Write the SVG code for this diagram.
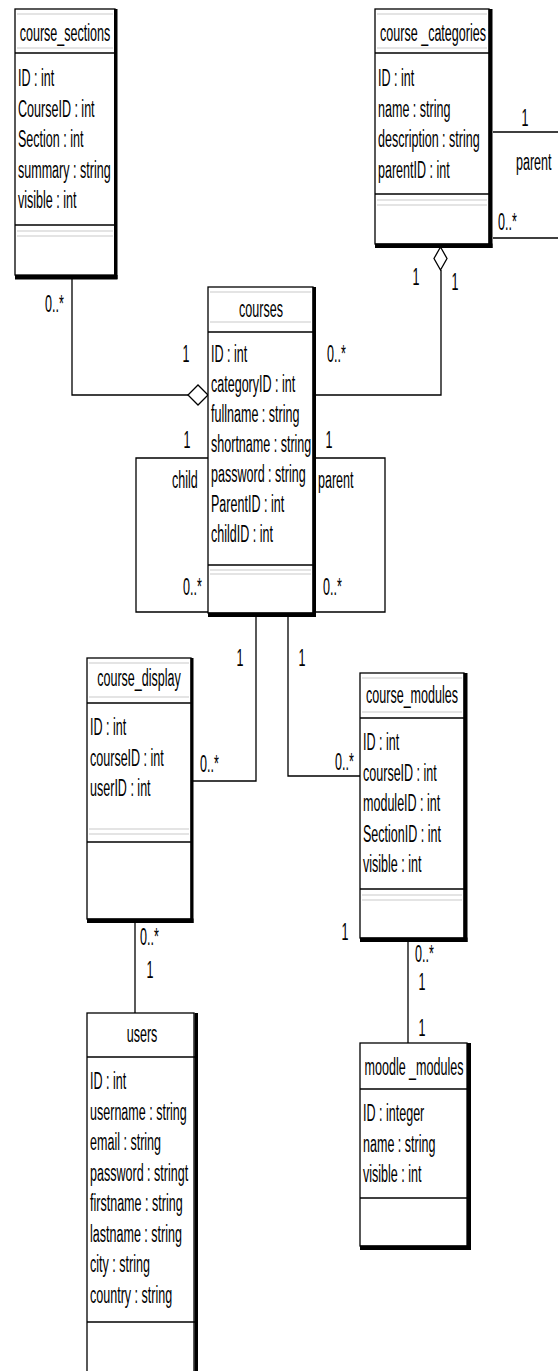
<svg xmlns="http://www.w3.org/2000/svg" width="558" height="1371" viewBox="0 0 558 1371">
<style>
text{font-family:"Liberation Sans",Arial,sans-serif;font-size:23px;fill:#000}
.c{text-anchor:middle}
.box{fill:#fff;stroke:#000;stroke-width:1.3}
.sh{fill:#000}
.div{stroke:#000;stroke-width:1.3}
.g{stroke:#e4e4e4;stroke-width:2}
.ln{fill:none;stroke:#000;stroke-width:1.3}
.dm{fill:#fff;stroke:#000;stroke-width:1.3}
</style>
<rect width="558" height="1371" fill="#fff"/>

<g id="connectors">
<path class="ln" d="M72 279V395H188"/>
<path class="ln" d="M441 270V395H316"/>
<path class="ln" d="M208 458H136V612H208"/>
<path class="ln" d="M316 458H385V612H316"/>
<path class="ln" d="M256 617V781H193"/>
<path class="ln" d="M288 617V776H360"/>
<path class="ln" d="M135 923V1013"/>
<path class="ln" d="M408 942V1043"/>
<path class="ln" d="M493 132H558M493 238H558"/>
<polygon class="dm" points="208,395 198,385 188,395 198,405"/>
<polygon class="dm" points="440.5,247 447,258.5 440.5,270 434,258.5"/>
<text transform="matrix(0.545 0 0 1 45 312)">0..*</text>
<text class="c" transform="matrix(0.545 0 0 1 186 362)">1</text>
<text transform="matrix(0.545 0 0 1 327 362)">0..*</text>
<text class="c" transform="matrix(0.545 0 0 1 416 285)">1</text>
<text class="c" transform="matrix(0.545 0 0 1 455 290)">1</text>
<text class="c" transform="matrix(0.545 0 0 1 187 448)">1</text>
<text class="c" transform="matrix(0.545 0 0 1 329 448)">1</text>
<text transform="matrix(0.545 0 0 1 172 488)">child</text>
<text transform="matrix(0.545 0 0 1 318 488)">parent</text>
<text transform="matrix(0.545 0 0 1 183 595)">0..*</text>
<text transform="matrix(0.545 0 0 1 323 595)">0..*</text>
<text class="c" transform="matrix(0.545 0 0 1 240 666)">1</text>
<text class="c" transform="matrix(0.545 0 0 1 302 666)">1</text>
<text transform="matrix(0.545 0 0 1 200 772)">0..*</text>
<text transform="matrix(0.545 0 0 1 335 770)">0..*</text>
<text class="c" transform="matrix(0.545 0 0 1 345 940)">1</text>
<text transform="matrix(0.545 0 0 1 140 945)">0..*</text>
<text class="c" transform="matrix(0.545 0 0 1 150 978)">1</text>
<text transform="matrix(0.545 0 0 1 415 962)">0..*</text>
<text class="c" transform="matrix(0.545 0 0 1 422 990)">1</text>
<text class="c" transform="matrix(0.545 0 0 1 422 1036)">1</text>
<text class="c" transform="matrix(0.545 0 0 1 525 126)">1</text>
<text transform="matrix(0.545 0 0 1 516 170)">parent</text>
<text transform="matrix(0.545 0 0 1 498 230)">0..*</text>
</g>

<g id="course_sections">
<rect class="box" x="15" y="9" width="100" height="266"/>
<rect class="sh" x="114" y="9" width="3.5" height="270"/>
<rect class="sh" x="15" y="275" width="102.5" height="4.5"/>
<line class="g" x1="17" y1="14" x2="113" y2="14"/>
<line class="g" x1="17" y1="48" x2="113" y2="48"/>
<line class="div" x1="15" y1="53" x2="115" y2="53"/>
<line class="div" x1="15" y1="225" x2="115" y2="225"/>
<line class="g" x1="17" y1="231" x2="113" y2="231"/>
<line class="g" x1="17" y1="236" x2="113" y2="236"/>
<text class="c" transform="matrix(0.545 0 0 1 65 41)">course_sections</text>
<text transform="matrix(0.545 0 0 1 18 86)">ID : int</text>
<text transform="matrix(0.545 0 0 1 18 116.5)">CourseID : int</text>
<text transform="matrix(0.545 0 0 1 18 147)">Section : int</text>
<text transform="matrix(0.545 0 0 1 18 177.5)">summary : string</text>
<text transform="matrix(0.545 0 0 1 18 208)">visible : int</text>
</g>

<g id="course_categories">
<rect class="box" x="375" y="9" width="114" height="235"/>
<rect class="sh" x="488.5" y="9" width="4" height="239"/>
<rect class="sh" x="375" y="243.5" width="117.5" height="4.5"/>
<line class="g" x1="377" y1="14" x2="487" y2="14"/>
<line class="g" x1="377" y1="48" x2="487" y2="48"/>
<line class="div" x1="375" y1="53" x2="489" y2="53"/>
<line class="div" x1="375" y1="194" x2="489" y2="194"/>
<line class="g" x1="377" y1="200" x2="487" y2="200"/>
<line class="g" x1="377" y1="205" x2="487" y2="205"/>
<text class="c" transform="matrix(0.545 0 0 1 433 41)">course _categories</text>
<text transform="matrix(0.545 0 0 1 378 86)">ID : int</text>
<text transform="matrix(0.545 0 0 1 378 116.5)">name : string</text>
<text transform="matrix(0.545 0 0 1 378 147)">description : string</text>
<text transform="matrix(0.545 0 0 1 378 177.5)">parentID : int</text>
</g>

<g id="courses">
<rect class="box" x="208" y="287" width="105" height="326"/>
<rect class="sh" x="312.5" y="287" width="3.5" height="330"/>
<rect class="sh" x="208" y="612.5" width="108" height="4.5"/>
<line class="g" x1="210" y1="292" x2="311" y2="292"/>
<line class="g" x1="210" y1="322" x2="311" y2="322"/>
<line class="div" x1="208" y1="332" x2="313" y2="332"/>
<line class="div" x1="208" y1="565" x2="313" y2="565"/>
<line class="g" x1="210" y1="570" x2="311" y2="570"/>
<line class="g" x1="210" y1="574" x2="311" y2="574"/>
<text class="c" transform="matrix(0.545 0 0 1 261 317)">courses</text>
<text transform="matrix(0.545 0 0 1 211 362)">ID : int</text>
<text transform="matrix(0.545 0 0 1 211 392)">categoryID : int</text>
<text transform="matrix(0.545 0 0 1 211 422)">fullname : string</text>
<text transform="matrix(0.545 0 0 1 211 452)">shortname : string</text>
<text transform="matrix(0.545 0 0 1 211 482)">password : string</text>
<text transform="matrix(0.545 0 0 1 211 512)">ParentID : int</text>
<text transform="matrix(0.545 0 0 1 211 542)">childID : int</text>
</g>

<g id="course_display">
<rect class="box" x="87" y="658" width="104" height="261"/>
<rect class="sh" x="190.5" y="658" width="3" height="265"/>
<rect class="sh" x="87" y="918.5" width="106.5" height="4.5"/>
<line class="g" x1="89" y1="663" x2="189" y2="663"/>
<line class="g" x1="89" y1="697" x2="189" y2="697"/>
<line class="div" x1="87" y1="703" x2="191" y2="703"/>
<line class="g" x1="89" y1="829" x2="189" y2="829"/>
<line class="g" x1="89" y1="834" x2="189" y2="834"/>
<line class="div" x1="87" y1="842" x2="191" y2="842"/>
<text class="c" transform="matrix(0.545 0 0 1 139 686)">course_display</text>
<text transform="matrix(0.545 0 0 1 90 735)">ID : int</text>
<text transform="matrix(0.545 0 0 1 90 765.5)">courseID : int</text>
<text transform="matrix(0.545 0 0 1 90 796)">userID : int</text>
</g>

<g id="course_modules">
<rect class="box" x="360" y="673" width="104" height="265"/>
<rect class="sh" x="463.5" y="673" width="4" height="269"/>
<rect class="sh" x="360" y="937.5" width="107.5" height="4.5"/>
<line class="g" x1="362" y1="678" x2="462" y2="678"/>
<line class="g" x1="362" y1="712" x2="462" y2="712"/>
<line class="div" x1="360" y1="718" x2="464" y2="718"/>
<line class="div" x1="360" y1="889" x2="464" y2="889"/>
<line class="g" x1="362" y1="895" x2="462" y2="895"/>
<line class="g" x1="362" y1="900" x2="462" y2="900"/>
<text class="c" transform="matrix(0.545 0 0 1 412 703)">course_modules</text>
<text transform="matrix(0.545 0 0 1 363 750)">ID : int</text>
<text transform="matrix(0.545 0 0 1 363 780.5)">courseID : int</text>
<text transform="matrix(0.545 0 0 1 363 811)">moduleID : int</text>
<text transform="matrix(0.545 0 0 1 363 841.5)">SectionID : int</text>
<text transform="matrix(0.545 0 0 1 363 872)">visible : int</text>
</g>

<g id="users">
<rect class="box" x="87" y="1013" width="107" height="370"/>
<rect class="sh" x="194.5" y="1013" width="3.5" height="370"/>
<line class="div" x1="87" y1="1057" x2="195" y2="1057"/>
<line class="div" x1="87" y1="1322" x2="195" y2="1322"/>
<text class="c" transform="matrix(0.545 0 0 1 142 1042)">users</text>
<text transform="matrix(0.545 0 0 1 90 1089)">ID : int</text>
<text transform="matrix(0.545 0 0 1 90 1119.5)">username : string</text>
<text transform="matrix(0.545 0 0 1 90 1150)">email : string</text>
<text transform="matrix(0.545 0 0 1 90 1180.5)">password : stringt</text>
<text transform="matrix(0.545 0 0 1 90 1211)">firstname : string</text>
<text transform="matrix(0.545 0 0 1 90 1241.5)">lastname : string</text>
<text transform="matrix(0.545 0 0 1 90 1272)">city : string</text>
<text transform="matrix(0.545 0 0 1 90 1302.5)">country : string</text>
</g>

<g id="moodle_modules">
<rect class="box" x="360" y="1043" width="107" height="203"/>
<rect class="sh" x="467" y="1043" width="4" height="207"/>
<rect class="sh" x="360" y="1245.5" width="111" height="4.5"/>
<line class="div" x1="360" y1="1089" x2="467" y2="1089"/>
<line class="div" x1="360" y1="1198" x2="467" y2="1198"/>
<text class="c" transform="matrix(0.545 0 0 1 414 1075)">moodle _modules</text>
<text transform="matrix(0.545 0 0 1 363 1121)">ID : integer</text>
<text transform="matrix(0.545 0 0 1 363 1151.5)">name : string</text>
<text transform="matrix(0.545 0 0 1 363 1182)">visible : int</text>
</g>
</svg>
